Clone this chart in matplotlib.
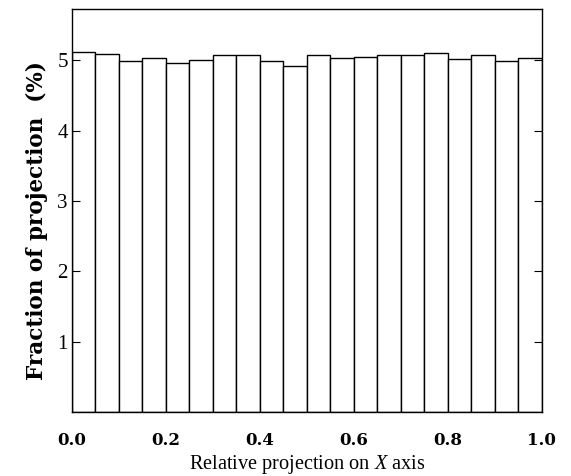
import numpy as np
import matplotlib.pyplot as plt

# bin edges (left) and fraction (%) per bin
bin_left = np.arange(20) * 0.05
fraction = [5.12, 5.09, 4.99, 5.04, 4.96, 5.01, 5.07, 5.08, 4.99, 4.92,
            5.07, 5.04, 5.05, 5.08, 5.07, 5.10, 5.02, 5.07, 4.99, 5.04]
xticks = [0.0, 0.2, 0.4, 0.6, 0.8, 1.0]
yticks = [1, 2, 3, 4, 5]

plt.rcParams['font.family'] = ['Liberation Serif', 'DejaVu Serif']
plt.rcParams['mathtext.fontset'] = 'custom'
plt.rcParams['mathtext.it'] = 'Liberation Serif:italic'

fig = plt.figure(figsize=(5.71, 4.76), dpi=100)
ax = fig.add_axes([0.126, 0.134, 0.823, 0.847])

ax.bar(bin_left, fraction, width=0.05, align='edge',
       facecolor='white', edgecolor='black', linewidth=1.0)

ax.set_xlim(0, 1.0)
ax.set_ylim(0, 5.73)
ax.set_xticks(xticks)
ax.set_xticklabels([f'{t:.1f}' for t in xticks], family='DejaVu Serif',
                   fontweight='bold', fontsize=12)
ax.set_yticks(yticks)
ax.set_yticklabels([str(t) for t in yticks], fontsize=15)
ax.tick_params(axis='x', length=0, pad=14)
ax.tick_params(axis='y', direction='in', length=6, right=True, pad=3)

for s in ax.spines.values():
    s.set_linewidth(1.0)

ax.set_ylabel('Fraction of projection  (%)', family='DejaVu Serif',
              fontsize=15.5, fontweight='bold')
ax.yaxis.set_label_coords(-0.05, 0.476)
ax.set_xlabel('Relative projection on $X$ axis', fontsize=14.6, labelpad=3)

fig.savefig('out.png', dpi=100)
